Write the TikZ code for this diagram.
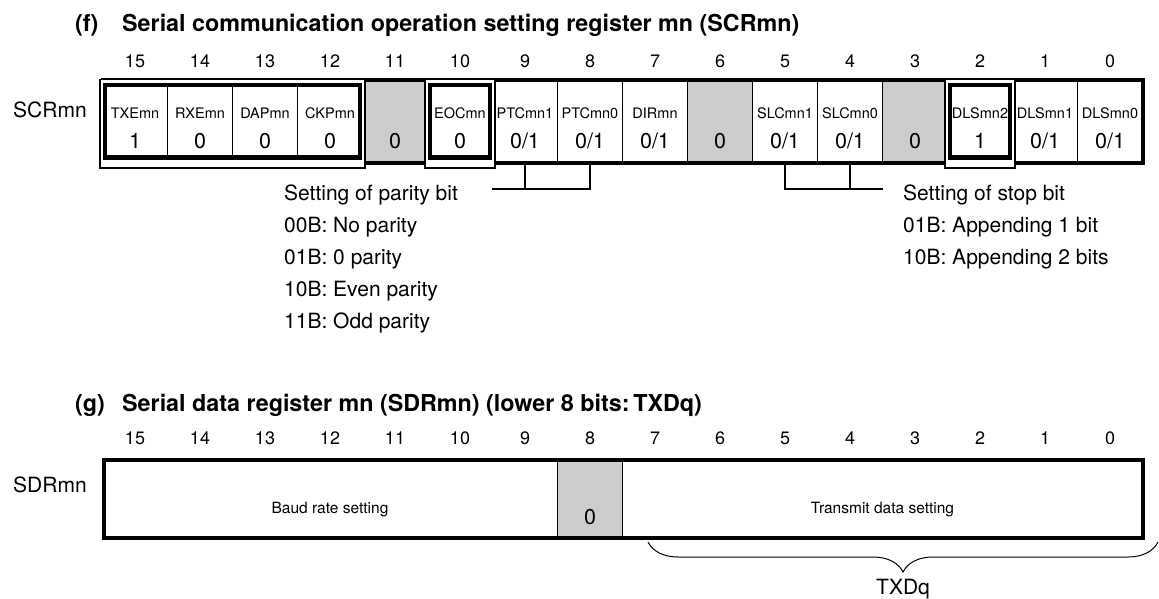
\documentclass[tikz,border=0pt]{standalone}
\usepackage{fontspec}
\setmainfont{TeX Gyre Heros}
\usepackage{graphicx}
\usetikzlibrary{decorations.pathreplacing}
\definecolor{regGray}{RGB}{204,204,204}
\begin{document}
\begin{tikzpicture}[x=1pt,y=-1pt,
  ttl/.style={anchor=base west, inner sep=0pt, font=\fontsize{23.3}{28}\selectfont\bfseries},
  bitnum/.style={anchor=base, inner sep=0pt, font=\fontsize{18}{21}\selectfont},
  reglabel/.style={anchor=base west, inner sep=0pt, font=\fontsize{21}{25}\selectfont},
  fname/.style={anchor=base, inner sep=0pt, font=\fontsize{14.5}{17}\selectfont},
  fval/.style={anchor=base, inner sep=0pt, font=\fontsize{21.5}{25}\selectfont},
  note/.style={anchor=base west, inner sep=0pt, font=\fontsize{21}{25}\selectfont},
  thickborder/.style={line width=4pt},
  divider/.style={line width=1.6pt},
  framethin/.style={line width=1.2pt, fill=white},
  framethick/.style={line width=4pt},
  leader/.style={line width=1.5pt},
  bracestyle/.style={line width=1pt, decorate, decoration={brace, mirror, amplitude=30pt}},
]
\useasboundingbox (0,0) rectangle (1159,599);

% ---------- (f) SCRmn ----------
\node[ttl] (tf) at (75,32) {(f)};
\node[ttl] (tfs) at (122,32) {Serial communication operation setting register mn (SCRmn)};
\foreach \i in {0,...,15} {
  \pgfmathtruncatemacro{\b}{15-\i}
  \node[bitnum] (tb\b) at ({135+65*\i},67.5) {\b};
}
\node[reglabel] (scr) at (13,118) {SCRmn};

% gray cells
\foreach \i in {4,9,12}
  \fill[regGray] ({102.5+65*\i},80) rectangle ({167.5+65*\i},162.5);
% dividers and outer border
\foreach \k in {1,...,15}
  \draw[divider] ({102.5+65*\k},80) -- ({102.5+65*\k},162.5);
\draw[thickborder] (102.5,80) rectangle (1142.5,162.5);
% framed groups
\foreach \a/\e in {0/4, 5/6, 13/14} {
  \draw[framethin] ({102.5+65*\a-2.5},79.5) rectangle ({102.5+65*\e+2.5},168);
  \draw[framethick] ({102.5+65*\a+2.5},85) rectangle ({102.5+65*\e-2.5},157.5);
}
\foreach \k in {1,2,3}
  \draw[divider] ({102.5+65*\k},85) -- ({102.5+65*\k},157.5);

% field names and values
\foreach \i/\t in {0/TXEmn,1/RXEmn,2/DAPmn,3/CKPmn,5/EOCmn,6/PTCmn1,7/PTCmn0,8/DIRmn,10/SLCmn1,11/SLCmn0,13/DLSmn2,14/DLSmn1,15/DLSmn0}
  \node[fname] (nm\i) at ({135+65*\i},119) {\t};
\foreach \i/\t in {0/{1},1/{0},2/{0},3/{0},4/{0},5/{0},6/{0/1},7/{0/1},8/{0/1},9/{0},10/{0/1},11/{0/1},12/{0},13/{1},14/{0/1},15/{0/1}}
  \node[fval] (vl\i) at ({135+65*\i},149) {\t};

% leaders
\coordinate (par9) at (525,162.5);
\coordinate (par8) at (590,162.5);
\coordinate (parL) at (492,189);
\draw[leader] (par9) -- (par9 |- parL);
\draw[leader] (par8) -- (par8 |- parL) -- (parL);
\coordinate (stp5) at (785,162.5);
\coordinate (stp4) at (850,162.5);
\coordinate (stpR) at (883,189);
\draw[leader] (stp5) -- (stp5 |- stpR) -- (stpR);
\draw[leader] (stp4) -- (stp4 |- stpR);

\node[note] (pa0) at (284,200.5) {Setting of parity bit};
\node[note] (pa1) at (284,232.5) {00B: No parity};
\node[note] (pa2) at (284,264.5) {01B: 0 parity};
\node[note] (pa3) at (284,296.5) {10B: Even parity};
\node[note] (pa4) at (284,328.5) {11B: Odd parity};
\node[note] (st0) at (903,200.5) {Setting of stop bit};
\node[note] (st1) at (903,232.5) {01B: Appending 1 bit};
\node[note] (st2) at (903,264.5) {10B: Appending 2 bits};

% ---------- (g) SDRmn ----------
\node[ttl] (tg) at (75,411) {(g)};
\node[ttl] (tgs) at (122,411) {Serial data register mn (SDRmn) (lower 8 bits:\,TXDq)};
\foreach \i in {0,...,15} {
  \pgfmathtruncatemacro{\b}{15-\i}
  \node[bitnum] (bb\b) at ({135+65*\i},444) {\b};
}
\node[reglabel] (sdr) at (13,492) {SDRmn};
\fill[regGray] (557.5,460) rectangle (622.5,538);
\draw[divider] (557.5,460) -- (557.5,538);
\draw[divider] (622.5,460) -- (622.5,538);
\draw[thickborder] (103.5,460) rectangle (1142.5,538);
\node[fname, font=\fontsize{15.5}{18}\selectfont] (baud) at (330,513) {Baud rate setting};
\node[fname, font=\fontsize{15.5}{18}\selectfont] (txs) at (882.5,513) {Transmit data setting};
\node[fval] (g0) at (590,524) {0};

\coordinate (brL) at (648,542);
\coordinate (brR) at (1158,542);
\draw[bracestyle] (brL) -- (brR);
\node[fval, font=\fontsize{21}{25}\selectfont] (txdq) at (903,594) {TXDq};
\end{tikzpicture}
\end{document}
